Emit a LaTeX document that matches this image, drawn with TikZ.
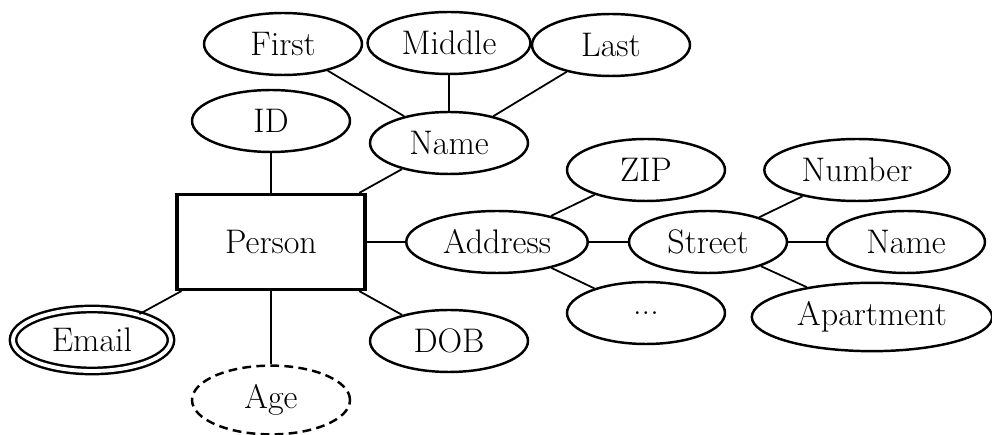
\documentclass[tikz,border=0pt]{standalone}
\usepackage{amssymb}
\usepackage{amsmath}
\usetikzlibrary{shapes.geometric}

\begin{document}
\begin{tikzpicture} [x=0.02cm, y=-0.02cm, font=\fontsize{19.4}{23}\selectfont,
	attr/.style={ellipse, draw, line width=1.4pt, inner xsep=5.8pt, inner ysep=5pt, minimum width=3.16cm, minimum height=1.24cm},
	entity/.style={rectangle, draw, line width=1.8pt, minimum width=3.76cm, minimum height=1.9cm},
	multi/.style={attr, double, double distance=2.2pt},
	derived/.style={attr, dash pattern=on 5pt off 3pt},
	link/.style={line width=1pt}]
	\useasboundingbox (0,0) rectangle (992,435);
	\node [entity] (person) at (271,242) {Person};
	\node [attr] (id) at (271,121) {ID};
	\node [attr] (name) at (449,143) {Name};
			\node [attr] (first) at (283,44) {First};
			\node [attr] (middle) at (449,43) {Middle};
			\node [attr] (last) at (611,45) {Last};
	\node [attr] (address) at (497,242) {Address};
			\node [attr] (zip) at (646,170) {ZIP};
			\node [attr] (dots) at (646,313) {...};
			\node [attr] (street) at (708,242) {Street};
				\node [attr] (number) at (857,170) {Number};
				\node [attr] (sname) at (906,242) {Name};
				\node [attr] (apt) at (872,317) {Apartment};
	\node [multi] (email) at (92,340) {Email};
	\node [derived] (age) at (271,400) {Age};
	\node [attr] (dob) at (449,341) {DOB};

	\draw [link] (person) -- (id);
	\draw [link] (person) -- (name);
	\draw [link] (name) -- (first);
	\draw [link] (name) -- (middle);
	\draw [link] (name) -- (last);
	\draw [link] (person) -- (address);
	\draw [link] (address) -- (zip);
	\draw [link] (address) -- (dots);
	\draw [link] (address) -- (street);
	\draw [link] (street) -- (number);
	\draw [link] (street) -- (sname);
	\draw [link] (street) -- (apt);
	\draw [link] (person) -- (email);
	\draw [link] (person) -- (age);
	\draw [link] (person) -- (dob);
\end{tikzpicture}
\end{document}
